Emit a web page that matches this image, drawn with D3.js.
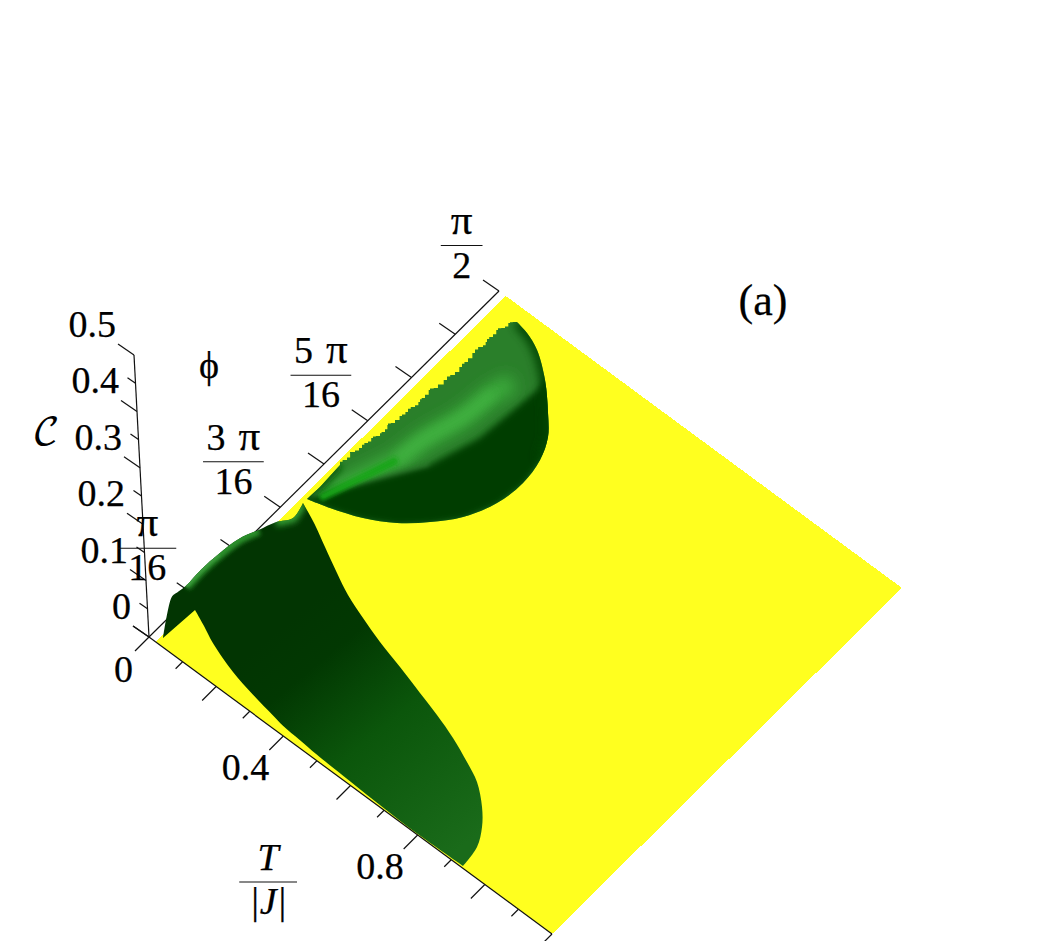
<!DOCTYPE html>
<html>
<head>
<meta charset="utf-8">
<script src="https://cdn.jsdelivr.net/npm/d3@7"></script>
<style>
  html, body { margin: 0; padding: 0; background: #fff; }
  svg { display: block; }
  text { font-family: "Liberation Serif", serif; font-size: 38px; fill: #000; stroke: #000; stroke-width: 0.25px; }
</style>
</head>
<body>
<div id="chart"></div>
<script>
// phi values are in units of pi/16
var tTicks = [0, 0.1, 0.2, 0.3, 0.4, 0.5, 0.6, 0.7, 0.8, 0.9, 1.0, 1.1, 1.2];
var tLabels = ["0", "0.4", "0.8"];
var phiTicks = [0, 1, 2, 3, 4, 5, 6, 7, 8];
var phiLabelAt = [1, 3, 5, 8];
var phiLabelNum = ["π", "3 π", "5 π", "π"];
var phiLabelDen = ["16", "16", "16", "2"];
var cTicks = [0, 0.05, 0.1, 0.15, 0.2, 0.25, 0.3, 0.35, 0.4, 0.45, 0.5];
var cLabels = ["0", "0.1", "0.2", "0.3", "0.4", "0.5"];

// corners of the C = 0 plane
var planeT = [0.02, 0.02, 1.2, 1.2];
var planePhi = [0, 8, 8, 0];

// outline of the low-phi lobe
var lowT = [0.0319, 0.0256, 0.02, 0.02, 0.02, 0.02, 0.02, 0.02, 0.02, 0.02, 0.02, 0.0404, 0.0315, 0.0899, 0.145, 0.2103, 0.267, 0.3323, 0.4027, 0.48, 0.5589, 0.6259, 0.6929, 0.7582, 0.8098, 0.8615, 0.896, 0.922, 0.9309, 0.7964, 0.6935, 0.5917, 0.49, 0.4359, 0.3818, 0.3469, 0.2769, 0.2035, 0.1199, 0.0748];
var lowPhi = [0.807, 0.1235, 0.269, 0.4, 0.468, 0.716, 1.083, 1.47, 1.921, 2.366, 2.743, 2.982, 3.278, 3.105, 2.91, 2.683, 2.499, 2.341, 2.189, 2.053, 1.904, 1.778, 1.63, 1.448, 1.281, 0.999, 0.734, 0.42, 0.032, 0.013, 0.026, 0.053, 0.079, 0.106, 0.132, 0.172, 0.252, 0.358, 0.543, 0.683];
var lowC = [0, 0, 0.0255, 0.0492, 0.0492, 0.0444, 0.0463, 0.0433, 0.0353, 0.0172, 0.002, 0, 0, 0, 0, 0, 0, 0, 0, 0, 0, 0, 0, 0, 0, 0, 0, 0, 0, 0, 0, 0, 0, 0, 0, 0, 0, 0, 0, 0];

// outline of the high-phi lobe, the part after 0.0842 is the noisy edge at small T
var highT = [0.0314, 0.0862, 0.1598, 0.2264, 0.281, 0.3286, 0.3625, 0.3723, 0.3616, 0.3356, 0.2942, 0.2321, 0.1667, 0.1203, 0.0842,
  0.0776, 0.0741, 0.0772, 0.0741, 0.068, 0.0656, 0.07, 0.0692, 0.066, 0.0675, 0.071, 0.0694, 0.0655, 0.0661, 0.0705, 0.0697, 0.0665, 0.0681, 0.072, 0.0699, 0.0645, 0.0649, 0.0672, 0.0633, 0.057, 0.0532, 0.059, 0.0585, 0.055, 0.0568, 0.0595, 0.0569, 0.0525, 0.0536, 0.0535, 0.0502, 0.053, 0.0504, 0.044, 0.0419, 0.048, 0.0489, 0.045, 0.0473, 0.041, 0.0387, 0.0415, 0.0388, 0.0355, 0.0373, 0.0365, 0.0322, 0.027, 0.0254, 0.0335, 0.0324, 0.028, 0.029, 0.0329];
var highPhi = [3.37, 3.476, 3.665, 3.931, 4.266, 4.655, 5.172, 5.691, 6.162, 6.544, 6.862, 7.27, 7.59, 7.717, 7.764,
  7.72, 7.683, 7.62, 7.568, 7.53, 7.474, 7.4, 7.332, 7.27, 7.208, 7.15, 7.102, 7.02, 6.944, 6.85, 6.757, 6.7, 6.632, 6.54, 6.457, 6.39, 6.313, 6.22, 6.119, 6.07, 6.015, 5.94, 5.86, 5.81, 5.759, 5.7, 5.644, 5.58, 5.508, 5.45, 5.397, 5.32, 5.236, 5.19, 5.141, 5.08, 5.019, 4.97, 4.917, 4.87, 4.823, 4.76, 4.708, 4.65, 4.582, 4.52, 4.462, 4.43, 4.399, 4.34, 4.278, 4.21, 4.143, 3.656];

// where the high lobe's light ridge runs, and where its shadow starts
var ridgeT = [0.0518, 0.0839, 0.1177, 0.1275, 0.1561, 0.1659, 0.1827];
var ridgePhi = [3.51, 4.111, 4.766, 5.284, 5.979, 6.59, 6.918];
var shadowT = [0.0399, 0.1232, 0.186, 0.2248, 0.2345, 0.2408, 0.2232];
var shadowPhi = [3.442, 4.335, 4.995, 5.84, 6.52, 7.089, 7.681];

var yellow = "#ffff1f";

var width = 1040;
var height = 941;

var tx = d3.scaleLinear().domain([0, 1.2]).range([0, 403]);
var ty = d3.scaleLinear().domain([0, 1.2]).range([0, 297]);
var px = d3.scaleLinear().domain([0, 8]).range([0, 350]);
var py = d3.scaleLinear().domain([0, 8]).range([0, -346]);
var cx = d3.scaleLinear().domain([0, 0.5]).range([0, -15]);
var cy = d3.scaleLinear().domain([0, 0.5]).range([0, -282]);

function project(t, phi, c) {
  return [149 + tx(t) + px(phi) + cx(c || 0), 637 + ty(t) + py(phi) + cy(c || 0)];
}

function zipPoints(ts, phis, cs) {
  return ts.map(function(t, i) {
    return project(t, phis[i], cs ? cs[i] : 0);
  });
}

var path = d3.line();
var smooth = d3.line().curve(d3.curveCatmullRom.alpha(0.5));
var stairs = d3.line().curve(d3.curveStepAfter);

// join outline pieces into one closed path
function outline(pieces) {
  var d = pieces.map(function(s, i) {
    return i === 0 ? s : "L" + s.slice(1);
  }).join("");
  return d + "Z";
}

var svg = d3.select("#chart").append("svg")
  .attr("width", width)
  .attr("height", height);

var defs = svg.append("defs");

function addBlur(id, amount) {
  defs.append("filter")
    .attr("id", id)
    .attr("filterUnits", "userSpaceOnUse")
    .attr("x", 0).attr("y", 0)
    .attr("width", width).attr("height", height)
    .append("feGaussianBlur")
    .attr("stdDeviation", amount);
}
addBlur("blur1", 1);
addBlur("blur2", 2);
addBlur("blur3", 3);
addBlur("blur5", 5);
addBlur("blur8", 8);

var lowPoints = zipPoints(lowT, lowPhi, lowC);
var highPoints = zipPoints(highT, highPhi);
var ridgePoints = zipPoints(ridgeT, ridgePhi);
var shadowPoints = zipPoints(shadowT, shadowPhi);

var lowOutline = outline([
  path(lowPoints.slice(0, 2)),
  smooth(lowPoints.slice(1, 5)),
  smooth(lowPoints.slice(4, 13)),
  smooth(lowPoints.slice(12, 29)),
  smooth(lowPoints.slice(28).concat(lowPoints.slice(0, 1)))
]);
var highOutline = outline([
  smooth(highPoints.slice(0, 15)),
  stairs(highPoints.slice(14, -1)),
  path(highPoints.slice(-2).concat(highPoints.slice(0, 1)))
]);

defs.append("clipPath").attr("id", "clipLow")
  .append("path").attr("d", lowOutline);
defs.append("clipPath").attr("id", "clipHigh")
  .append("path").attr("d", highOutline);

var gradStart = project(0.2112, 1.601);
var gradEnd = project(0.898, 0.445);
var grad = defs.append("linearGradient").attr("id", "lowShade")
  .attr("gradientUnits", "userSpaceOnUse")
  .attr("x1", gradStart[0]).attr("y1", gradStart[1])
  .attr("x2", gradEnd[0]).attr("y2", gradEnd[1]);
grad.append("stop").attr("offset", 0).attr("stop-color", "#023502");
grad.append("stop").attr("offset", 0.18).attr("stop-color", "#023802");
grad.append("stop").attr("offset", 0.5).attr("stop-color", "#0b560b");
grad.append("stop").attr("offset", 1).attr("stop-color", "#1a6b1a");

// axes go under the surface
var axes = svg.append("g").attr("stroke", "#111").attr("stroke-width", 1.2).attr("fill", "none");

axes.append("path").attr("d", path([project(0, 0, 0), project(0, 0, 0.5)]));
axes.append("path").attr("d", path([project(0, 0), project(0, 8)]));

cTicks.forEach(function(c, i) {
  var p = project(0, 0, c);
  var k = i % 2 === 0 ? 1 : 0.5;
  axes.append("path").attr("d", path([p, [p[0] - 16 * k, p[1] - 11 * k]]));
});
phiTicks.forEach(function(k) {
  var p = project(0, k);
  axes.append("path").attr("d", path([p, [p[0] - 16, p[1] - 11]]));
});
tTicks.forEach(function(t, i) {
  var p = project(t, 0);
  var k = i % 2 === 0 ? 14 : 7;
  axes.append("path").attr("d", path([p, [p[0] - k, p[1] + k]]));
});

// flat part of the surface
svg.append("path")
  .attr("d", path(zipPoints(planeT, planePhi)) + "Z")
  .attr("fill", yellow)
  .attr("shape-rendering", "crispEdges");

svg.append("path")
  .attr("d", path([project(0, 0), project(1.2, 0)]))
  .attr("stroke", "#111").attr("stroke-width", 1.2).attr("fill", "none");

// low lobe
var low = svg.append("g").attr("clip-path", "url(#clipLow)");
low.append("rect").attr("width", width).attr("height", height).attr("fill", "url(#lowShade)");
low.append("path").attr("d", smooth(lowPoints.slice(5, 10))).attr("fill", "none")
  .attr("stroke", "#2c8f2c").attr("stroke-width", 11).attr("filter", "url(#blur2)");
low.append("path").attr("d", smooth(lowPoints.slice(5, 8))).attr("fill", "none")
  .attr("stroke", "#3c9a3c").attr("stroke-width", 5).attr("filter", "url(#blur1)");
low.append("path").attr("d", path(lowPoints.slice(10, 13))).attr("fill", "none")
  .attr("stroke", "#35a035").attr("stroke-width", 9).attr("filter", "url(#blur3)");

// high lobe
var high = svg.append("g").attr("clip-path", "url(#clipHigh)");
high.append("rect").attr("width", width).attr("height", height).attr("fill", "#2a7f2a");
high.append("path").attr("d", smooth(ridgePoints)).attr("fill", "none")
  .attr("stroke", "#3cb03c").attr("stroke-width", 18).attr("filter", "url(#blur8)");
high.append("path").attr("d", smooth(ridgePoints.slice(2, 6))).attr("fill", "none")
  .attr("stroke", "#3fb13f").attr("stroke-width", 9).attr("filter", "url(#blur5)");
high.append("path").attr("d", path(highPoints.slice(0, 1).concat(highPoints.slice(-2)))).attr("fill", "none")
  .attr("stroke", "#0f5f0f").attr("stroke-width", 8).attr("filter", "url(#blur3)");
high.append("path").attr("d", smooth(shadowPoints.slice(0, 3))).attr("fill", "none")
  .attr("stroke", "#50a850").attr("stroke-width", 5).attr("filter", "url(#blur2)");
high.append("path")
  .attr("d", path(shadowPoints.concat(highPoints.slice(0, 11).reverse())) + "Z")
  .attr("fill", "#033e03").attr("stroke", "#033e03").attr("stroke-width", 4)
  .attr("filter", "url(#blur3)");
high.append("path").attr("d", smooth(ridgePoints.slice(0, 3))).attr("fill", "none")
  .attr("stroke", "#18a518").attr("stroke-width", 7).attr("filter", "url(#blur2)");
high.append("path").attr("d", smooth(highPoints.slice(8, 15))).attr("fill", "none")
  .attr("stroke", "#044304").attr("stroke-width", 10).attr("filter", "url(#blur5)");

// labels
var labels = svg.append("g");

cLabels.forEach(function(s) {
  var p = project(0, 0, +s);
  labels.append("text").attr("x", p[0] - 18).attr("y", p[1] - 18)
    .attr("text-anchor", "end").text(s);
});

tLabels.forEach(function(s) {
  var p = project(+s, 0);
  if (s === "0") {
    labels.append("text").attr("x", p[0] - 16).attr("y", p[1] + 45).attr("text-anchor", "end").text(s);
  } else {
    labels.append("text").attr("x", p[0] - 14).attr("y", p[1] + 44).attr("text-anchor", "end").text(s);
  }
});

// numerator may be "3 π": the digit and a larger pi with a gap between
function fillNumerator(a, num) {
  num.split(" ").forEach(function(part, i) {
    var span = a.append("tspan").text(part);
    if (i > 0) span.attr("dx", 13);
    if (part === "π") span.style("font-size", "43px");
  });
}

function fraction(right, lineY, num, den, italic) {
  var g = labels.append("g");
  var a = g.append("text").attr("y", lineY - 12).attr("text-anchor", "middle");
  fillNumerator(a, num);
  var b = g.append("text").attr("y", lineY + 32).attr("text-anchor", "middle").text(den);
  if (italic) {
    a.attr("font-style", "italic");
    b.attr("font-style", "italic");
  }
  var w = Math.max(a.node().getComputedTextLength(), b.node().getComputedTextLength()) + 20;
  var mid = right - w / 2;
  a.attr("x", mid);
  b.attr("x", mid);
  g.append("line").attr("x1", right - w).attr("x2", right)
    .attr("y1", lineY).attr("y2", lineY)
    .attr("stroke", "#111").attr("stroke-width", 1.2);
}

phiLabelAt.forEach(function(k, i) {
  var p = project(0, k);
  fraction(p[0] - 16.5, p[1] - 45.5, phiLabelNum[i], phiLabelDen[i]);
});

fraction(297, 882, "T", "|J|", true);

labels.append("text").attr("x", 209).attr("y", 378).attr("text-anchor", "middle").text("ϕ");
labels.append("text").attr("x", 46).attr("y", 445).attr("text-anchor", "middle")
  .style("font-family", "'DejaVu Math TeX Gyre', 'Liberation Serif', serif")
  .style("stroke-width", 0)
  .text("𝒞");
labels.append("text").attr("x", 763).attr("y", 315).attr("text-anchor", "middle").style("font-size", "44px").text("(a)");
</script>
</body>
</html>
